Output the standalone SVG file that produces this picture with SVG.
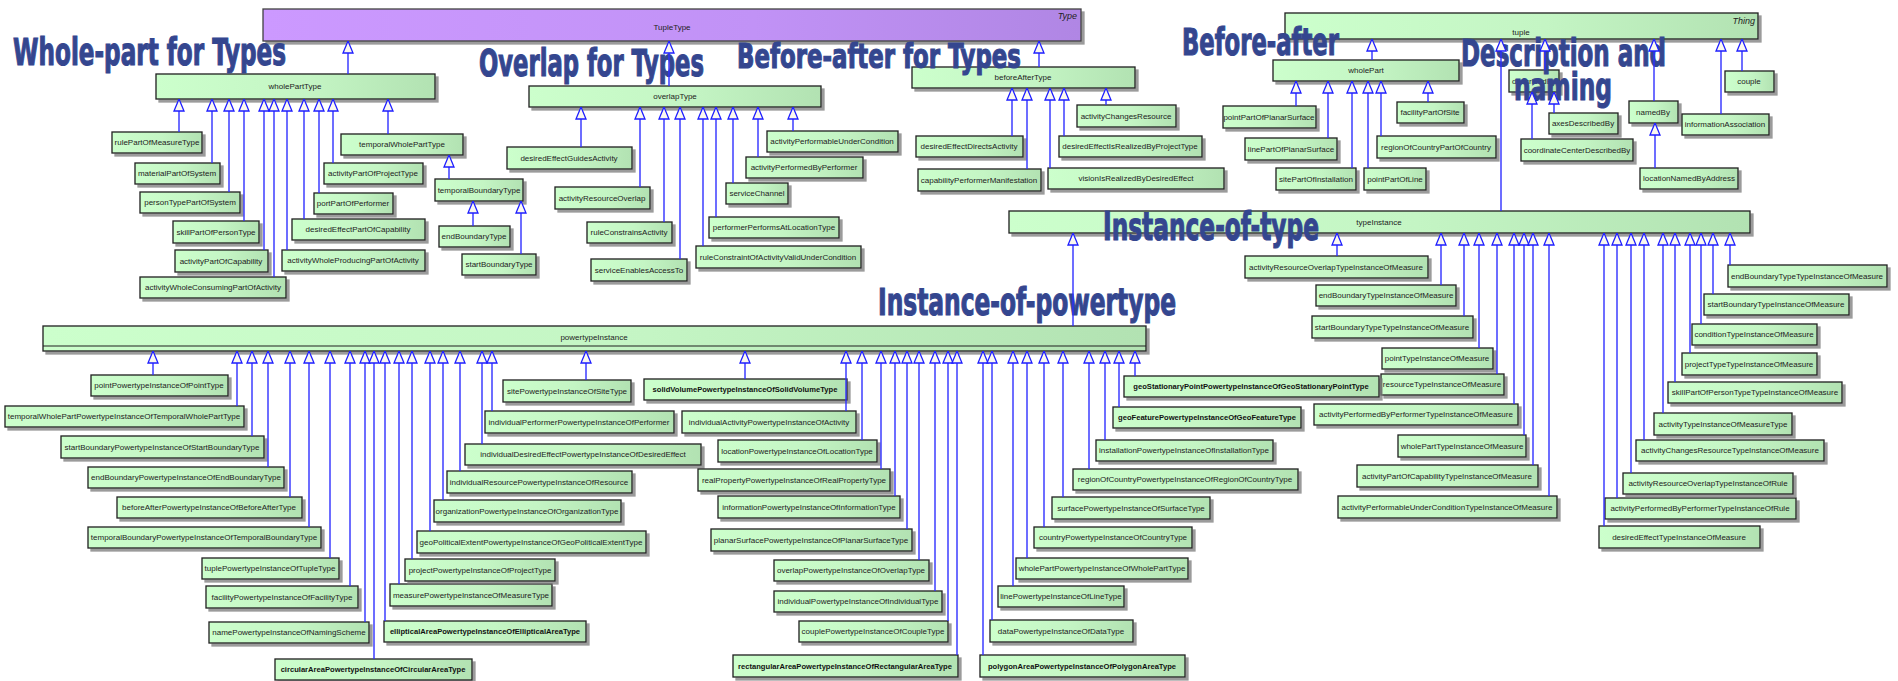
<svg xmlns="http://www.w3.org/2000/svg" width="1898" height="681" viewBox="0 0 1898 681">
<defs>
<linearGradient id="gG" x1="0" y1="0" x2="1" y2="0">
<stop offset="0" stop-color="#CCFFCC"/><stop offset="0.55" stop-color="#C4F5C4"/><stop offset="1" stop-color="#B2E2B2"/>
</linearGradient>
<linearGradient id="gP" x1="0" y1="0" x2="1" y2="0">
<stop offset="0" stop-color="#CC99FF"/><stop offset="0.6" stop-color="#C192F6"/><stop offset="1" stop-color="#B086E4"/>
</linearGradient>
<filter id="sh" x="-5%" y="-20%" width="115%" height="160%">
<feDropShadow dx="3" dy="3" stdDeviation="0.6" flood-color="#7a7a7a" flood-opacity="0.75"/>
</filter>
<marker id="gen" viewBox="0 0 13 12" refX="12.5" refY="6" markerWidth="13" markerHeight="12" markerUnits="userSpaceOnUse" orient="auto">
<path d="M12.5,6 L0.5,1 L0.5,11 Z" fill="#FBF8EE" stroke="#1E1EFF" stroke-width="1.3"/>
</marker>
<style>
rect.n{fill:url(#gG);stroke:#202020;stroke-width:1.3;filter:url(#sh)}
rect.p{fill:url(#gP);stroke:#404040;stroke-width:1.3;filter:url(#sh)}
text{font-family:"Liberation Sans",Arial,sans-serif;font-size:8px;fill:#222;text-anchor:middle}
text.b{font-weight:bold;font-size:7.6px;fill:#111}
text.st{font-style:italic;text-anchor:end;font-size:9px}
text.ttl{font-family:"DejaVu Sans Condensed","Liberation Sans Narrow",sans-serif;font-weight:bold;font-size:37px;fill:#34468F;stroke:#34468F;stroke-width:1.1;text-anchor:start}
#links path{fill:none;stroke:#2F2FFF;stroke-width:1.4;marker-end:url(#gen)}
</style>
</defs>
<rect width="1898" height="681" fill="#FFFFFF"/>

<!-- top abstract types -->
<g id="n-TupleType"><rect class="p" x="263" y="9" width="818" height="32"/><text x="672" y="30">TupleType</text><text class="st" x="1077" y="19">Type</text></g>
<g id="n-tuple"><rect class="n" x="1285" y="13" width="473" height="26"/><text x="1521" y="35">tuple</text><text class="st" x="1755" y="24">Thing</text></g>

<!-- whole-part for types -->
<g id="n-wholePartType"><rect class="n" x="156" y="74" width="279" height="25"/><text x="295" y="89">wholePartType</text></g>
<g id="n-rulePartOfMeasureType"><rect class="n" x="112" y="132" width="90" height="21"/><text x="157" y="145">rulePartOfMeasureType</text></g>
<g id="n-materialPartOfSystem"><rect class="n" x="135" y="163" width="85" height="21"/><text x="177" y="176">materialPartOfSystem</text></g>
<g id="n-personTypePartOfSystem"><rect class="n" x="140" y="192" width="100" height="21"/><text x="190" y="205">personTypePartOfSystem</text></g>
<g id="n-skillPartOfPersonType"><rect class="n" x="173" y="221" width="86" height="22"/><text x="216" y="235">skillPartOfPersonType</text></g>
<g id="n-activityPartOfCapability"><rect class="n" x="175" y="250" width="93" height="22"/><text x="221" y="264">activityPartOfCapability</text></g>
<g id="n-activityWholeConsumingPartOfActivity"><rect class="n" x="140" y="277" width="146" height="21"/><text x="213" y="290">activityWholeConsumingPartOfActivity</text></g>
<g id="n-desiredEffectPartOfCapability"><rect class="n" x="292" y="219" width="133" height="21"/><text x="358" y="232">desiredEffectPartOfCapability</text></g>
<g id="n-activityWholeProducingPartOfActivity"><rect class="n" x="282" y="250" width="143" height="21"/><text x="353" y="263">activityWholeProducingPartOfActivity</text></g>
<g id="n-portPartOfPerformer"><rect class="n" x="314" y="193" width="79" height="21"/><text x="353" y="206">portPartOfPerformer</text></g>
<g id="n-activityPartOfProjectType"><rect class="n" x="324" y="163" width="99" height="21"/><text x="373" y="176">activityPartOfProjectType</text></g>
<g id="n-temporalWholePartType"><rect class="n" x="341" y="134" width="122" height="21"/><text x="402" y="147">temporalWholePartType</text></g>
<g id="n-temporalBoundaryType"><rect class="n" x="435" y="179" width="88" height="22"/><text x="479" y="193">temporalBoundaryType</text></g>
<g id="n-endBoundaryType"><rect class="n" x="439" y="226" width="71" height="21"/><text x="474" y="239">endBoundaryType</text></g>
<g id="n-startBoundaryType"><rect class="n" x="462" y="254" width="74" height="21"/><text x="499" y="267">startBoundaryType</text></g>

<!-- overlap for types -->
<g id="n-overlapType"><rect class="n" x="529" y="86" width="292" height="21"/><text x="675" y="99">overlapType</text></g>
<g id="n-desiredEffectGuidesActivity"><rect class="n" x="507" y="147" width="125" height="22"/><text x="569" y="161">desiredEffectGuidesActivity</text></g>
<g id="n-activityResourceOverlap"><rect class="n" x="555" y="187" width="95" height="22"/><text x="602" y="201">activityResourceOverlap</text></g>
<g id="n-ruleConstrainsActivity"><rect class="n" x="587" y="222" width="85" height="21"/><text x="629" y="235">ruleConstrainsActivity</text></g>
<g id="n-serviceEnablesAccessTo"><rect class="n" x="591" y="259" width="96" height="22"/><text x="639" y="273">serviceEnablesAccessTo</text></g>
<g id="n-ruleConstraintOfActivityValidUnderCondition"><rect class="n" x="696" y="246" width="165" height="22"/><text x="778" y="260">ruleConstraintOfActivityValidUnderCondition</text></g>
<g id="n-performerPerformsAtLocationType"><rect class="n" x="709" y="217" width="130" height="21"/><text x="774" y="230">performerPerformsAtLocationType</text></g>
<g id="n-serviceChannel"><rect class="n" x="726" y="183" width="62" height="21"/><text x="757" y="196">serviceChannel</text></g>
<g id="n-activityPerformedByPerformer"><rect class="n" x="746" y="157" width="117" height="21"/><text x="804" y="170">activityPerformedByPerformer</text></g>
<g id="n-activityPerformableUnderCondition"><rect class="n" x="767" y="131" width="131" height="21"/><text x="832" y="144">activityPerformableUnderCondition</text></g>

<!-- before-after for types -->
<g id="n-beforeAfterType"><rect class="n" x="912" y="67" width="223" height="21"/><text x="1023" y="80">beforeAfterType</text></g>
<g id="n-desiredEffectDirectsActivity"><rect class="n" x="916" y="136" width="107" height="21"/><text x="969" y="149">desiredEffectDirectsActivity</text></g>
<g id="n-capabilityPerformerManifestation"><rect class="n" x="918" y="169" width="123" height="22"/><text x="979" y="183">capabilityPerformerManifestation</text></g>
<g id="n-visionIsRealizedByDesiredEffect"><rect class="n" x="1048" y="168" width="176" height="21"/><text x="1136" y="181">visionIsRealizedByDesiredEffect</text></g>
<g id="n-desiredEffectIsRealizedByProjectType"><rect class="n" x="1059" y="136" width="143" height="21"/><text x="1130" y="149">desiredEffectIsRealizedByProjectType</text></g>
<g id="n-activityChangesResource"><rect class="n" x="1077" y="105" width="99" height="22"/><text x="1126" y="119">activityChangesResource</text></g>

<!-- before-after (whole-part of individuals) -->
<g id="n-wholePart"><rect class="n" x="1273" y="60" width="186" height="21"/><text x="1366" y="73">wholePart</text></g>
<g id="n-pointPartOfPlanarSurface"><rect class="n" x="1223" y="106" width="93" height="22"/><text x="1269" y="120">pointPartOfPlanarSurface</text></g>
<g id="n-linePartOfPlanarSurface"><rect class="n" x="1245" y="138" width="92" height="22"/><text x="1291" y="152">linePartOfPlanarSurface</text></g>
<g id="n-sitePartOfInstallation"><rect class="n" x="1276" y="168" width="80" height="22"/><text x="1316" y="182">sitePartOfInstallation</text></g>
<g id="n-pointPartOfLine"><rect class="n" x="1364" y="168" width="62" height="22"/><text x="1395" y="182">pointPartOfLine</text></g>
<g id="n-regionOfCountryPartOfCountry"><rect class="n" x="1377" y="136" width="119" height="22"/><text x="1436" y="150">regionOfCountryPartOfCountry</text></g>
<g id="n-facilityPartOfSite"><rect class="n" x="1397" y="102" width="67" height="21"/><text x="1430" y="115">facilityPartOfSite</text></g>

<!-- description and naming -->
<g id="n-describedBy"><rect class="n" x="1509" y="70" width="50" height="22"/><text x="1534" y="84">describedBy</text></g>
<g id="n-axesDescribedBy"><rect class="n" x="1549" y="113" width="69" height="21"/><text x="1583" y="126">axesDescribedBy</text></g>
<g id="n-coordinateCenterDescribedBy"><rect class="n" x="1521" y="139" width="112" height="22"/><text x="1577" y="153">coordinateCenterDescribedBy</text></g>
<g id="n-namedBy"><rect class="n" x="1629" y="101" width="49" height="22"/><text x="1653" y="115">namedBy</text></g>
<g id="n-locationNamedByAddress"><rect class="n" x="1640" y="168" width="98" height="21"/><text x="1689" y="181">locationNamedByAddress</text></g>
<g id="n-informationAssociation"><rect class="n" x="1682" y="114" width="87" height="21"/><text x="1725" y="127">informationAssociation</text></g>
<g id="n-couple"><rect class="n" x="1725" y="71" width="49" height="21"/><text x="1749" y="84">couple</text></g>

<!-- instance-of-type -->
<g id="n-typeInstance"><rect class="n" x="1009" y="211" width="741" height="22"/><text x="1379" y="225">typeInstance</text></g>
<g id="n-activityResourceOverlapTypeInstanceOfMeasure"><rect class="n" x="1245" y="256" width="183" height="22"/><text x="1336" y="270">activityResourceOverlapTypeInstanceOfMeasure</text></g>
<g id="n-endBoundaryTypeInstanceOfMeasure"><rect class="n" x="1316" y="285" width="140" height="21"/><text x="1386" y="298">endBoundaryTypeInstanceOfMeasure</text></g>
<g id="n-startBoundaryTypeTypeInstanceOfMeasure"><rect class="n" x="1312" y="316" width="161" height="22"/><text x="1392" y="330">startBoundaryTypeTypeInstanceOfMeasure</text></g>
<g id="n-pointTypeInstanceOfMeasure"><rect class="n" x="1382" y="348" width="111" height="21"/><text x="1437" y="361">pointTypeInstanceOfMeasure</text></g>
<g id="n-resourceTypeInstanceOfMeasure"><rect class="n" x="1381" y="374" width="123" height="21"/><text x="1442" y="387">resourceTypeInstanceOfMeasure</text></g>
<g id="n-activityPerformedByPerformerTypeInstanceOfMeasure"><rect class="n" x="1314" y="404" width="204" height="21"/><text x="1416" y="417">activityPerformedByPerformerTypeInstanceOfMeasure</text></g>
<g id="n-wholePartTypeInstanceOfMeasure"><rect class="n" x="1398" y="435" width="128" height="22"/><text x="1462" y="449">wholePartTypeInstanceOfMeasure</text></g>
<g id="n-activityPartOfCapabilityTypeInstanceOfMeasure"><rect class="n" x="1357" y="465" width="181" height="22"/><text x="1447" y="479">activityPartOfCapabilityTypeInstanceOfMeasure</text></g>
<g id="n-activityPerformableUnderConditionTypeInstanceOfMeasure"><rect class="n" x="1338" y="496" width="219" height="22"/><text x="1447" y="510">activityPerformableUnderConditionTypeInstanceOfMeasure</text></g>
<g id="n-desiredEffectTypeInstanceOfMeasure"><rect class="n" x="1599" y="526" width="161" height="22"/><text x="1679" y="540">desiredEffectTypeInstanceOfMeasure</text></g>
<g id="n-activityPerformedByPerformerTypeInstanceOfRule"><rect class="n" x="1605" y="498" width="191" height="21"/><text x="1700" y="511">activityPerformedByPerformerTypeInstanceOfRule</text></g>
<g id="n-activityResourceOverlapTypeInstanceOfRule"><rect class="n" x="1623" y="473" width="170" height="21"/><text x="1708" y="486">activityResourceOverlapTypeInstanceOfRule</text></g>
<g id="n-activityChangesResourceTypeInstanceOfMeasure"><rect class="n" x="1636" y="440" width="188" height="21"/><text x="1730" y="453">activityChangesResourceTypeInstanceOfMeasure</text></g>
<g id="n-activityTypeInstanceOfMeasureType"><rect class="n" x="1654" y="413" width="138" height="22"/><text x="1723" y="427">activityTypeInstanceOfMeasureType</text></g>
<g id="n-skillPartOfPersonTypeTypeInstanceOfMeasure"><rect class="n" x="1668" y="382" width="174" height="21"/><text x="1755" y="395">skillPartOfPersonTypeTypeInstanceOfMeasure</text></g>
<g id="n-projectTypeTypeInstanceOfMeasure"><rect class="n" x="1682" y="353" width="135" height="22"/><text x="1749" y="367">projectTypeTypeInstanceOfMeasure</text></g>
<g id="n-conditionTypeInstanceOfMeasure"><rect class="n" x="1692" y="324" width="125" height="21"/><text x="1754" y="337">conditionTypeInstanceOfMeasure</text></g>
<g id="n-startBoundaryTypeInstanceOfMeasure"><rect class="n" x="1704" y="294" width="145" height="21"/><text x="1776" y="307">startBoundaryTypeInstanceOfMeasure</text></g>
<g id="n-endBoundaryTypeTypeInstanceOfMeasure"><rect class="n" x="1728" y="265" width="159" height="22"/><text x="1807" y="279">endBoundaryTypeTypeInstanceOfMeasure</text></g>

<!-- instance-of-powertype -->
<g id="n-powertypeInstance"><rect class="n" x="43" y="326" width="1103" height="25"/><line x1="43" y1="346" x2="1146" y2="346" stroke="#202020" stroke-width="1.2"/><text x="594" y="340">powertypeInstance</text></g>
<g id="n-pointPowertypeInstanceOfPointType"><rect class="n" x="91" y="375" width="137" height="21"/><text x="159" y="388">pointPowertypeInstanceOfPointType</text></g>
<g id="n-temporalWholePartPowertypeInstanceOfTemporalWholePartType"><rect class="n" x="5" y="406" width="239" height="21"/><text x="124" y="419">temporalWholePartPowertypeInstanceOfTemporalWholePartType</text></g>
<g id="n-startBoundaryPowertypeInstanceOfStartBoundaryType"><rect class="n" x="61" y="436" width="203" height="22"/><text x="162" y="450">startBoundaryPowertypeInstanceOfStartBoundaryType</text></g>
<g id="n-endBoundaryPowertypeInstanceOfEndBoundaryType"><rect class="n" x="88" y="467" width="196" height="21"/><text x="186" y="480">endBoundaryPowertypeInstanceOfEndBoundaryType</text></g>
<g id="n-beforeAfterPowertypeInstanceOfBeforeAfterType"><rect class="n" x="117" y="497" width="185" height="21"/><text x="209" y="510">beforeAfterPowertypeInstanceOfBeforeAfterType</text></g>
<g id="n-temporalBoundaryPowertypeInstanceOfTemporalBoundaryType"><rect class="n" x="88" y="527" width="233" height="21"/><text x="204" y="540">temporalBoundaryPowertypeInstanceOfTemporalBoundaryType</text></g>
<g id="n-tuplePowertypeInstanceOfTupleType"><rect class="n" x="202" y="558" width="137" height="21"/><text x="270" y="571">tuplePowertypeInstanceOfTupleType</text></g>
<g id="n-facilityPowertypeInstanceOfFacilityType"><rect class="n" x="206" y="586" width="152" height="22"/><text x="282" y="600">facilityPowertypeInstanceOfFacilityType</text></g>
<g id="n-namePowertypeInstanceOfNamingScheme"><rect class="n" x="209" y="622" width="160" height="21"/><text x="289" y="635">namePowertypeInstanceOfNamingScheme</text></g>
<g id="n-circularAreaPowertypeInstanceOfCircularAreaType"><rect class="n" x="275" y="659" width="197" height="21"/><text class="b" x="373" y="672">circularAreaPowertypeInstanceOfCircularAreaType</text></g>
<g id="n-ellipticalAreaPowertypeInstanceOfEllipticalAreaType"><rect class="n" x="384" y="621" width="202" height="21"/><text class="b" x="485" y="634">ellipticalAreaPowertypeInstanceOfEllipticalAreaType</text></g>
<g id="n-measurePowertypeInstanceOfMeasureType"><rect class="n" x="390" y="584" width="162" height="22"/><text x="471" y="598">measurePowertypeInstanceOfMeasureType</text></g>
<g id="n-projectPowertypeInstanceOfProjectType"><rect class="n" x="405" y="559" width="150" height="22"/><text x="480" y="573">projectPowertypeInstanceOfProjectType</text></g>
<g id="n-geoPoliticalExtentPowertypeInstanceOfGeoPoliticalExtentType"><rect class="n" x="417" y="531" width="229" height="22"/><text x="531" y="545">geoPoliticalExtentPowertypeInstanceOfGeoPoliticalExtentType</text></g>
<g id="n-organizationPowertypeInstanceOfOrganizationType"><rect class="n" x="434" y="500" width="187" height="22"/><text x="527" y="514">organizationPowertypeInstanceOfOrganizationType</text></g>
<g id="n-individualResourcePowertypeInstanceOfResource"><rect class="n" x="447" y="471" width="185" height="22"/><text x="539" y="485">individualResourcePowertypeInstanceOfResource</text></g>
<g id="n-individualDesiredEffectPowertypeInstanceOfDesiredEffect"><rect class="n" x="465" y="444" width="236" height="21"/><text x="583" y="457">individualDesiredEffectPowertypeInstanceOfDesiredEffect</text></g>
<g id="n-individualPerformerPowertypeInstanceOfPerformer"><rect class="n" x="485" y="411" width="189" height="22"/><text x="579" y="425">individualPerformerPowertypeInstanceOfPerformer</text></g>
<g id="n-sitePowertypeInstanceOfSiteType"><rect class="n" x="503" y="380" width="128" height="22"/><text x="567" y="394">sitePowertypeInstanceOfSiteType</text></g>
<g id="n-solidVolumePowertypeInstanceOfSolidVolumeType"><rect class="n" x="644" y="379" width="203" height="21"/><text class="b" x="745" y="392">solidVolumePowertypeInstanceOfSolidVolumeType</text></g>
<g id="n-individualActivityPowertypeInstanceOfActivity"><rect class="n" x="682" y="411" width="174" height="22"/><text x="769" y="425">individualActivityPowertypeInstanceOfActivity</text></g>
<g id="n-locationPowertypeInstanceOfLocationType"><rect class="n" x="718" y="440" width="159" height="22"/><text x="797" y="454">locationPowertypeInstanceOfLocationType</text></g>
<g id="n-realPropertyPowertypeInstanceOfRealPropertyType"><rect class="n" x="698" y="469" width="192" height="22"/><text x="794" y="483">realPropertyPowertypeInstanceOfRealPropertyType</text></g>
<g id="n-informationPowertypeInstanceOfInformationType"><rect class="n" x="718" y="496" width="182" height="22"/><text x="809" y="510">informationPowertypeInstanceOfInformationType</text></g>
<g id="n-planarSurfacePowertypeInstanceOfPlanarSurfaceType"><rect class="n" x="711" y="529" width="201" height="22"/><text x="811" y="543">planarSurfacePowertypeInstanceOfPlanarSurfaceType</text></g>
<g id="n-overlapPowertypeInstanceOfOverlapType"><rect class="n" x="774" y="560" width="155" height="21"/><text x="851" y="573">overlapPowertypeInstanceOfOverlapType</text></g>
<g id="n-individualPowertypeInstanceOfIndividualType"><rect class="n" x="774" y="591" width="168" height="21"/><text x="858" y="604">individualPowertypeInstanceOfIndividualType</text></g>
<g id="n-couplePowertypeInstanceOfCoupleType"><rect class="n" x="799" y="621" width="149" height="21"/><text x="873" y="634">couplePowertypeInstanceOfCoupleType</text></g>
<g id="n-rectangularAreaPowertypeInstanceOfRectangularAreaType"><rect class="n" x="733" y="655" width="225" height="22"/><text class="b" x="845" y="669">rectangularAreaPowertypeInstanceOfRectangularAreaType</text></g>
<g id="n-polygonAreaPowertypeInstanceOfPolygonAreaType"><rect class="n" x="980" y="655" width="205" height="22"/><text class="b" x="1082" y="669">polygonAreaPowertypeInstanceOfPolygonAreaType</text></g>
<g id="n-dataPowertypeInstanceOfDataType"><rect class="n" x="990" y="620" width="143" height="22"/><text x="1061" y="634">dataPowertypeInstanceOfDataType</text></g>
<g id="n-linePowertypeInstanceOfLineType"><rect class="n" x="998" y="586" width="126" height="21"/><text x="1061" y="599">linePowertypeInstanceOfLineType</text></g>
<g id="n-wholePartPowertypeInstanceOfWholePartType"><rect class="n" x="1016" y="558" width="172" height="21"/><text x="1102" y="571">wholePartPowertypeInstanceOfWholePartType</text></g>
<g id="n-countryPowertypeInstanceOfCountryType"><rect class="n" x="1034" y="527" width="158" height="21"/><text x="1113" y="540">countryPowertypeInstanceOfCountryType</text></g>
<g id="n-surfacePowertypeInstanceOfSurfaceType"><rect class="n" x="1052" y="497" width="158" height="22"/><text x="1131" y="511">surfacePowertypeInstanceOfSurfaceType</text></g>
<g id="n-regionOfCountryPowertypeInstanceOfRegionOfCountryType"><rect class="n" x="1073" y="469" width="225" height="21"/><text x="1185" y="482">regionOfCountryPowertypeInstanceOfRegionOfCountryType</text></g>
<g id="n-installationPowertypeInstanceOfInstallationType"><rect class="n" x="1096" y="440" width="177" height="21"/><text x="1184" y="453">installationPowertypeInstanceOfInstallationType</text></g>
<g id="n-geoFeaturePowertypeInstanceOfGeoFeatureType"><rect class="n" x="1113" y="407" width="188" height="21"/><text class="b" x="1207" y="420">geoFeaturePowertypeInstanceOfGeoFeatureType</text></g>
<g id="n-geoStationaryPointPowertypeInstanceOfGeoStationaryPointType"><rect class="n" x="1124" y="376" width="255" height="21"/><text class="b" x="1251" y="389">geoStationaryPointPowertypeInstanceOfGeoStationaryPointType</text></g>

<!-- section headings -->
<g id="titles">
<text class="ttl" x="13" y="65" textLength="273" lengthAdjust="spacingAndGlyphs">Whole-part for Types</text>
<text class="ttl" x="479" y="76" textLength="225" lengthAdjust="spacingAndGlyphs">Overlap for Types</text>
<text class="ttl" x="737" y="68" textLength="284" lengthAdjust="spacingAndGlyphs" style="font-size:33px">Before-after for Types</text>
<text class="ttl" x="1182" y="55" textLength="157" lengthAdjust="spacingAndGlyphs">Before-after</text>
<text class="ttl" x="1461" y="66" textLength="205" lengthAdjust="spacingAndGlyphs">Description and</text>
<text class="ttl" x="1514" y="100" textLength="98" lengthAdjust="spacingAndGlyphs">naming</text>
<text class="ttl" x="1103" y="240" textLength="216" lengthAdjust="spacingAndGlyphs" style="font-size:39px">Instance-of-type</text>
<text class="ttl" x="878" y="315" textLength="298" lengthAdjust="spacingAndGlyphs">Instance-of-powertype</text>
</g>

<!-- generalization connectors (child top to parent bottom) -->
<g id="links">
<path d="M348,74V41"/><path d="M669,86V41"/><path d="M1039,67V41"/>
<path d="M179,132V99"/><path d="M212,163V99"/><path d="M229,192V99"/><path d="M244,221V99"/><path d="M264,250V99"/><path d="M274,277V99"/><path d="M287,250V99"/><path d="M304,219V99"/><path d="M319,193V99"/><path d="M333,163V99"/><path d="M388,134V99"/>
<path d="M449,179V155"/><path d="M473,226V201"/><path d="M521,254V201"/>
<path d="M581,147V107"/><path d="M640,187V107"/><path d="M664,222V107"/><path d="M680,259V107"/><path d="M703,246V107"/><path d="M716,217V107"/><path d="M733,183V107"/><path d="M758,157V107"/><path d="M793,131V107"/>
<path d="M1012,136V88"/><path d="M1027,169V88"/><path d="M1050,168V88"/><path d="M1064,136V88"/><path d="M1106,105V88"/>
<path d="M1372,60V39"/>
<path d="M1296,106V81"/><path d="M1328,138V81"/><path d="M1352,168V81"/><path d="M1368,168V81"/><path d="M1381,136V81"/><path d="M1428,102V81"/>
<path d="M1545,70V39"/><path d="M1554,113V92"/><path d="M1532,139V92"/>
<path d="M1654,101V39"/><path d="M1655,168V123"/><path d="M1721,114V39"/><path d="M1742,71V39"/>
<path d="M1501,211V39"/><path d="M1073,326V233"/>
<path d="M153,375V351"/><path d="M237,406V351"/><path d="M252,436V351"/><path d="M268,467V351"/><path d="M290,497V351"/><path d="M309,527V351"/><path d="M330,558V351"/><path d="M350,586V351"/><path d="M365,622V351"/><path d="M374,659V351"/><path d="M385,621V351"/><path d="M399,584V351"/><path d="M412,559V351"/><path d="M430,531V351"/><path d="M443,500V351"/><path d="M460,471V351"/><path d="M482,444V351"/><path d="M492,411V351"/><path d="M586,380V351"/><path d="M745,379V351"/><path d="M846,411V351"/><path d="M862,440V351"/><path d="M881,469V351"/><path d="M895,496V351"/><path d="M907,529V351"/><path d="M919,560V351"/><path d="M935,591V351"/><path d="M948,621V351"/><path d="M957,655V351"/><path d="M983,655V351"/><path d="M992,620V351"/><path d="M1013,586V351"/><path d="M1027,558V351"/><path d="M1044,527V351"/><path d="M1063,497V351"/><path d="M1089,469V351"/><path d="M1105,440V351"/><path d="M1119,407V351"/><path d="M1135,376V351"/>
<path d="M1337,256V233"/><path d="M1441,285V233"/><path d="M1464,316V233"/><path d="M1479,348V233"/><path d="M1497,374V233"/><path d="M1514,404V233"/><path d="M1524,435V233"/><path d="M1533,465V233"/><path d="M1549,496V233"/>
<path d="M1604,526V233"/><path d="M1617,498V233"/><path d="M1631,473V233"/><path d="M1644,440V233"/><path d="M1663,413V233"/><path d="M1675,382V233"/><path d="M1690,353V233"/><path d="M1701,324V233"/><path d="M1713,294V233"/><path d="M1730,265V233"/>
</g>
</svg>
